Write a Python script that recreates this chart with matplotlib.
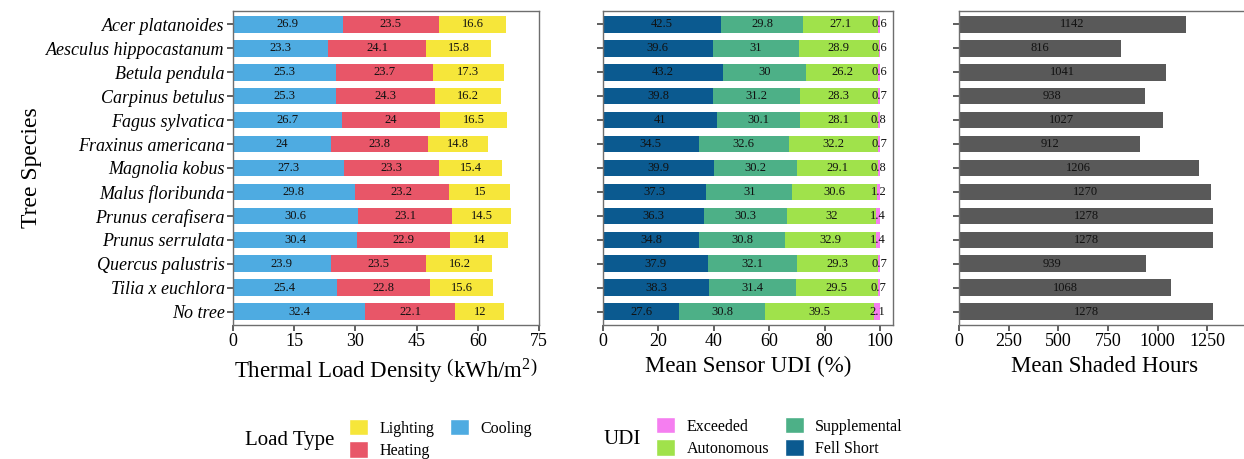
import matplotlib
matplotlib.use("Agg")
import matplotlib.pyplot as plt
from matplotlib.patches import Patch
import numpy as np

plt.rcParams['font.family'] = ['Liberation Serif', 'DejaVu Serif']
plt.rcParams['mathtext.fontset'] = 'custom'
plt.rcParams['mathtext.rm'] = 'Liberation Serif'
plt.rcParams['mathtext.it'] = 'Liberation Serif:italic'

species = ["Acer platanoides", "Aesculus hippocastanum", "Betula pendula", "Carpinus betulus",
           "Fagus sylvatica", "Fraxinus americana", "Magnolia kobus", "Malus floribunda",
           "Prunus cerafisera", "Prunus serrulata", "Quercus palustris", "Tilia x euchlora", "No tree"]

cooling = [26.9, 23.3, 25.3, 25.3, 26.7, 24, 27.3, 29.8, 30.6, 30.4, 23.9, 25.4, 32.4]
heating = [23.5, 24.1, 23.7, 24.3, 24, 23.8, 23.3, 23.2, 23.1, 22.9, 23.5, 22.8, 22.1]
lighting = [16.6, 15.8, 17.3, 16.2, 16.5, 14.8, 15.4, 15, 14.5, 14, 16.2, 15.6, 12]

fell_short = [42.5, 39.6, 43.2, 39.8, 41, 34.5, 39.9, 37.3, 36.3, 34.8, 37.9, 38.3, 27.6]
supplemental = [29.8, 31, 30, 31.2, 30.1, 32.6, 30.2, 31, 30.3, 30.8, 32.1, 31.4, 30.8]
autonomous = [27.1, 28.9, 26.2, 28.3, 28.1, 32.2, 29.1, 30.6, 32, 32.9, 29.3, 29.5, 39.5]
exceeded = [0.6, 0.6, 0.6, 0.7, 0.8, 0.7, 0.8, 1.2, 1.4, 1.4, 0.7, 0.7, 2.1]

shaded_hours = [1142, 816, 1041, 938, 1027, 912, 1206, 1270, 1278, 1278, 939, 1068, 1278]

load_ticks = [0, 15, 30, 45, 60, 75]
udi_ticks = [0, 20, 40, 60, 80, 100]
hour_ticks = [0, 250, 500, 750, 1000, 1250]

C_COOL, C_HEAT, C_LIGHT = "#4eabe1", "#e85668", "#f6e63a"
C_FS, C_SUP, C_AUT, C_EXC = "#0b5a90", "#4db087", "#a0e24b", "#f57ef0"
C_SH = "#595959"
SPINE = "#6e6e6e"

W, H = 1244, 459
fig = plt.figure(figsize=(W / 100, H / 100), dpi=100)

def ax_at(x0, x1, y0, y1):
    return fig.add_axes([x0 / W, 1 - y1 / H, (x1 - x0) / W, (y1 - y0) / H])

ax1 = ax_at(233, 539, 11, 325)
ax2 = ax_at(603, 893, 11, 325)
ax3 = ax_at(959, 1251, 11, 325)

y = np.arange(len(species))
bh = 0.7
lab_fs = 9

def stack(ax, series, colors):
    left = np.zeros(len(species))
    for vals, col in zip(series, colors):
        vals = np.array(vals, dtype=float)
        bars = ax.barh(y, vals, left=left, height=bh, color=col, linewidth=0)
        ax.bar_label(bars, labels=[f"{v:g}" for v in vals], label_type='center', fontsize=lab_fs, color='#111111')
        left = left + vals

stack(ax1, [cooling, heating, lighting], [C_COOL, C_HEAT, C_LIGHT])
stack(ax2, [fell_short, supplemental, autonomous, exceeded], [C_FS, C_SUP, C_AUT, C_EXC])
bars = ax3.barh(y, shaded_hours, height=bh, color=C_SH, linewidth=0)
ax3.bar_label(bars, labels=[f"{v:g}" for v in shaded_hours], label_type='center', fontsize=lab_fs, color='#111111')

for ax in (ax1, ax2, ax3):
    ax.set_ylim(len(species) - 0.45, -0.55)
    ax.set_yticks(y)
    for s in ax.spines.values():
        s.set_color(SPINE)
        s.set_linewidth(1.0)
    ax.tick_params(axis='both', colors='#333333', length=4, width=1.1, labelsize=13, labelcolor='black', pad=2)

ax1.set_yticklabels(species, fontstyle='italic')
ax2.set_yticklabels([])
ax3.set_yticklabels([])

ax1.set_xlim(0, 75)
ax1.set_xticks(load_ticks)
ax2.set_xlim(0, 104.7)
ax2.set_xticks(udi_ticks)
ax3.set_xlim(0, 1469)
ax3.set_xticks(hour_ticks)

ax1.set_xlabel(r"Thermal Load Density $\left(\mathrm{kWh/m^{2}}\right)$", fontsize=16.5, labelpad=4)
ax2.set_xlabel("Mean Sensor UDI (%)", fontsize=16.5, labelpad=4)
ax3.set_xlabel("Mean Shaded Hours", fontsize=16.5, labelpad=4)
ax1.set_ylabel("Tree Species", fontsize=17, labelpad=3)

# Legends
fig.text(245 / W, 1 - 441 / H, "Load Type", fontsize=15, va='center', ha='left')
h1 = [Patch(facecolor=C_LIGHT, edgecolor='white', label='Lighting'),
      Patch(facecolor=C_HEAT, edgecolor='white', label='Heating'),
      Patch(facecolor=C_COOL, edgecolor='white', label='Cooling')]
fig.legend(handles=h1, ncol=2, loc='upper left', bbox_to_anchor=(349 / W, 1 - 419 / H),
           frameon=False, fontsize=11.5, handlelength=1.2, handleheight=1.2, handletextpad=0.7,
           columnspacing=1.0, labelspacing=0.3, borderaxespad=0, borderpad=0)

fig.text(604 / W, 1 - 439 / H, "UDI", fontsize=15, va='center', ha='left')
h2 = [Patch(facecolor=C_EXC, edgecolor='white', label='Exceeded'),
      Patch(facecolor=C_AUT, edgecolor='white', label='Autonomous'),
      Patch(facecolor=C_SUP, edgecolor='white', label='Supplemental'),
      Patch(facecolor=C_FS, edgecolor='white', label='Fell Short')]
fig.legend(handles=h2, ncol=2, loc='upper left', bbox_to_anchor=(656 / W, 1 - 417 / H),
           frameon=False, fontsize=11.5, handlelength=1.2, handleheight=1.2, handletextpad=0.7,
           columnspacing=1.0, labelspacing=0.3, borderaxespad=0, borderpad=0)

fig.savefig("out.png", dpi=100)
